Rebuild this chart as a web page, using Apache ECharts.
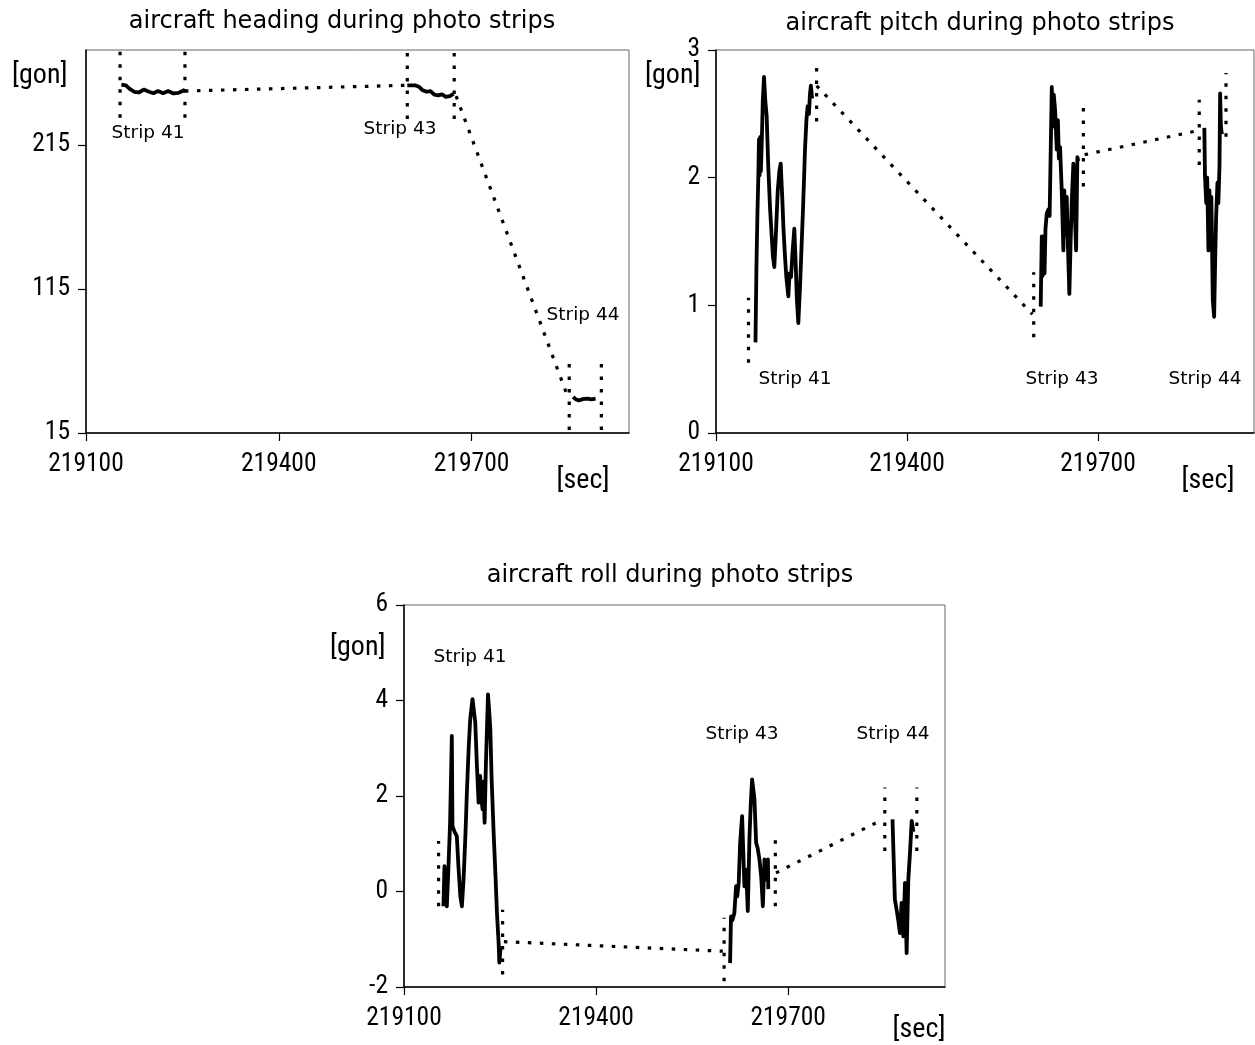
<!DOCTYPE html>
<html><head><meta charset="utf-8">
<script src="https://cdn.jsdelivr.net/npm/echarts@6/dist/echarts.min.js"></script>
<style>html,body{margin:0;padding:0;background:#fff}#c{width:1255px;height:1045px}</style>
</head><body><div id="c"></div>
<script>
// ---------- data ----------
const xTicks = [219100, 219400, 219700];
const headingTicks = [15, 115, 215];
const pitchTicks = [0, 1, 2, 3];
const rollTicks = [-2, 0, 2, 4, 6];

// heading [gon]
const headingStrip41 = [[219155,257],[219162,256.5],[219168,254],[219175,252],[219182,251.5],[219190,253.5],[219198,252],[219205,251],[219212,252.5],[219220,251],[219228,252.5],[219236,250.8],[219244,251.2],[219250,252.5],[219254,253.5]];
const headingStrip43 = [[219600,256.5],[219612,256.5],[219618,255.5],[219624,253],[219630,252],[219636,252.5],[219642,250],[219648,249.5],[219654,250.2],[219660,248.5],[219666,249],[219672,250.5]];
const headingStrip44 = [[219858,40],[219862,38.5],[219867,37.6],[219873,38.5],[219880,38.8],[219887,38.3],[219893,38.8]];
const headingLink1 = [[219254,252.5],[219600,256.5]];
const headingLink2 = [[219676,249],[219849,41]];
const headingMarkers = [[219153,234,280],[219254,234,280],[219600,233,280],[219673,233,280],[219852,17,64],[219902,17,64]];

// pitch [gon]
const pitchStrip41 = [[219162,0.71],[219163.5,1.3],[219165,1.7],[219166.5,2.01],[219167.5,2.3],[219168.5,2.02],[219169.5,2.32],[219170.5,2.05],[219172,2.3],[219173.5,2.6],[219175.4,2.79],[219177.5,2.6],[219179.6,2.48],[219182,2.1],[219185,1.75],[219187.5,1.54],[219189.5,1.38],[219191.6,1.30],[219194,1.55],[219197,1.9],[219199.5,2.05],[219201.6,2.11],[219204,1.85],[219206,1.6],[219208.4,1.38],[219210.5,1.22],[219213.6,1.07],[219215.5,1.25],[219217.8,1.22],[219220,1.4],[219223,1.60],[219225,1.35],[219227,1.05],[219229.3,0.86],[219232,1.15],[219234.6,1.49],[219237,1.8],[219239.8,2.22],[219242,2.45],[219244,2.56],[219246,2.5],[219247.5,2.65],[219249,2.72],[219251,2.62]];
const pitchStrip43 = [[219610,0.99],[219611.7,1.54],[219613,1.23],[219614.5,1.54],[219616,1.25],[219617.5,1.6],[219619.5,1.72],[219622,1.75],[219624,1.7],[219626,2.3],[219627.4,2.71],[219629,2.4],[219630.5,2.65],[219632.6,2.53],[219635.2,2.22],[219637,2.45],[219638.5,2.15],[219640.4,2.24],[219643,1.90],[219645.6,1.43],[219647,1.9],[219648.5,1.55],[219650.9,1.85],[219652.5,1.5],[219655,1.09],[219657,1.5],[219658.8,1.82],[219661.3,2.11],[219663,1.8],[219665.6,1.43],[219667.6,2.16],[219669,2.13]];
const pitchStrip44 = [[219867,2.39],[219868,2.01],[219870,1.8],[219871.5,2.0],[219873.4,1.43],[219875,1.9],[219876.5,1.5],[219878,1.85],[219880.3,1.04],[219882.4,0.91],[219884,1.35],[219885.5,1.69],[219887.6,1.96],[219889,1.8],[219890.8,2.09],[219891.8,2.66],[219893,2.4],[219894.5,2.34]];
const pitchLink1 = [[219258,2.72],[219597,0.93]];
const pitchLink2 = [[219679,2.18],[219858,2.37]];
const pitchMarkers = [[219151,0.55,1.06],[219258,2.44,2.92],[219599,0.75,1.26],[219677,1.93,2.59],[219859,2.10,2.61],[219901,2.32,2.82]];

// roll [gon]
const rollStrip41 = [[219161.6,-0.31],[219163.2,0.53],[219165,0.1],[219166.9,-0.31],[219169.5,0.53],[219172,1.44],[219174.7,3.26],[219175.7,1.37],[219179,1.25],[219182.5,1.16],[219185,0.53],[219188,-0.1],[219190.4,-0.31],[219193,0.25],[219196,1.2],[219198.2,2.07],[219201,3.0],[219203.4,3.61],[219207,4.03],[219209,3.8],[219211.3,3.54],[219214,2.6],[219216.5,1.86],[219219,2.42],[219220.5,2.0],[219222.7,1.72],[219224,2.3],[219225.9,1.44],[219228,2.70],[219231.2,4.13],[219233,3.8],[219234.8,3.40],[219237,2.3],[219240,1.23],[219243,0.3],[219245.2,-0.45],[219247.8,-1.08],[219248.9,-1.49],[219251,-1.15]];
const rollStrip43 = [[219609.3,-1.50],[219610.8,-0.52],[219613,-0.6],[219616,-0.45],[219618.7,0.11],[219620.5,-0.1],[219622.8,0.18],[219625,1.02],[219628.1,1.58],[219630,0.8],[219631.7,0.11],[219634.3,0.46],[219637,-0.41],[219639.5,1.09],[219641.5,1.8],[219643.7,2.35],[219647.4,1.93],[219650,1.02],[219652.5,0.9],[219655.2,0.67],[219658,0.3],[219660.5,-0.31],[219663,0.67],[219665.7,0.25],[219668.4,0.67],[219669,0.05]];
const rollStrip44 = [[219863,1.51],[219865,0.6],[219866.7,-0.17],[219869.4,-0.38],[219872,-0.6],[219874.6,-0.87],[219877.2,-0.24],[219879.9,-0.94],[219882.5,0.18],[219885.1,-1.29],[219887.7,0.25],[219890.3,0.81],[219893,1.48],[219895.6,1.25]];
const rollLink1 = [[219256,-1.05],[219598,-1.25]];
const rollLink2 = [[219681,0.39],[219848,1.51]];
const rollMarkers = [[219154,-0.31,1.06],[219254,-1.74,-0.38],[219600,-1.88,-0.55],[219680,-0.31,1.09],[219851,0.85,2.18],[219901,0.85,2.18]];

// ---------- chart ----------
const FONT = 'DejaVu Sans';
const TICKFONT = 'Roboto Condensed';
const xMin = 219100, xMax = 219945;

function solid(data, g) {
  return {type:'line', xAxisIndex:g, yAxisIndex:g, data:data, showSymbol:false, symbol:'none',
    lineStyle:{color:'#000', width:3.8, join:'round'}, silent:true, animation:false, z:3};
}
function dotted(data, g) {
  return {type:'line', xAxisIndex:g, yAxisIndex:g, data:data, showSymbol:false, symbol:'none',
    lineStyle:{color:'#000', width:3.2, type:[3.5,8.5]}, silent:true, animation:false, z:2};
}
function markerSeries(markers, g) {
  return markers.map(m => ({type:'line', xAxisIndex:g, yAxisIndex:g, data:[[m[0], m[1]],[m[0], m[2]]],
    showSymbol:false, symbol:'none', lineStyle:{color:'#000', width:3.2, type:[3.5,9]}, silent:true, animation:false, z:2}));
}

const grids = [
  {left:86, top:50, width:543, height:383},
  {left:716, top:50, width:538, height:383},
  {left:404, top:605, width:541, height:382}
].map(g => Object.assign(g, {show:true, borderColor:'#666', borderWidth:1, containLabel:false}));

function xAxis(g) {
  return {type:'value', gridIndex:g, min:xMin, max:xMax,
    axisLine:{show:true, onZero:false, lineStyle:{color:'#000', width:1.5}},
    axisTick:{show:true, length:8, customValues:xTicks, lineStyle:{color:'#000', width:1.2}},
    axisLabel:{customValues:xTicks, color:'#000', fontFamily:TICKFONT, fontSize:25.5, margin:19,
      formatter: v => String(v)},
    splitLine:{show:false}};
}
function yAxis(g, min, max, ticks) {
  return {type:'value', gridIndex:g, min:min, max:max,
    axisLine:{show:true, onZero:false, lineStyle:{color:'#000', width:1.5}},
    axisTick:{show:true, length:8, customValues:ticks, lineStyle:{color:'#000', width:1.2}},
    axisLabel:{customValues:ticks, color:'#000', fontFamily:TICKFONT, fontSize:25.5, margin:16,
      formatter: v => String(v)},
    splitLine:{show:false}};
}

function txt(text, x, y, size, align, family) {
  return {type:'text', silent:true, style:{text:text, x:x, y:y, fill:'#000',
    font: size + 'px "' + (family || FONT) + '"', textAlign: align || 'center', textVerticalAlign:'middle'}};
}

const option = {
  backgroundColor:'#fff',
  animation:false,
  grid: grids,
  xAxis:[xAxis(0), xAxis(1), xAxis(2)],
  yAxis:[yAxis(0, 15, 281, headingTicks), yAxis(1, 0, 3, pitchTicks), yAxis(2, -2, 6, rollTicks)],
  series: [
    solid(headingStrip41,0), solid(headingStrip43,0), solid(headingStrip44,0),
    dotted(headingLink1,0), dotted(headingLink2,0), ...markerSeries(headingMarkers,0),
    solid(pitchStrip41,1), solid(pitchStrip43,1), solid(pitchStrip44,1),
    dotted(pitchLink1,1), dotted(pitchLink2,1), ...markerSeries(pitchMarkers,1),
    solid(rollStrip41,2), solid(rollStrip43,2), solid(rollStrip44,2),
    dotted(rollLink1,2), dotted(rollLink2,2), ...markerSeries(rollMarkers,2)
  ],
  graphic: [
    txt('aircraft heading during photo strips', 342, 22, 24),
    txt('aircraft pitch during photo strips', 980, 24, 24),
    txt('aircraft roll during photo strips', 670, 576, 24),
    txt('[gon]', 12, 76, 28, 'left', TICKFONT),
    txt('[gon]', 645, 76, 28, 'left', TICKFONT),
    txt('[gon]', 330, 648, 28, 'left', TICKFONT),
    txt('[sec]', 583, 481, 28, 'center', TICKFONT),
    txt('[sec]', 1208, 481, 28, 'center', TICKFONT),
    txt('[sec]', 919, 1030, 28, 'center', TICKFONT),
    txt('Strip 41', 148, 133, 18.5),
    txt('Strip 43', 400, 129, 18.5),
    txt('Strip 44', 583, 315, 18.5),
    txt('Strip 41', 795, 379, 18.5),
    txt('Strip 43', 1062, 379, 18.5),
    txt('Strip 44', 1205, 379, 18.5),
    txt('Strip 41', 470, 657, 18.5),
    txt('Strip 43', 742, 734, 18.5),
    txt('Strip 44', 893, 734, 18.5)
  ]
};

const chart = echarts.init(document.getElementById('c'), null, {renderer:'canvas'});
chart.setOption(option);
</script></body></html>
